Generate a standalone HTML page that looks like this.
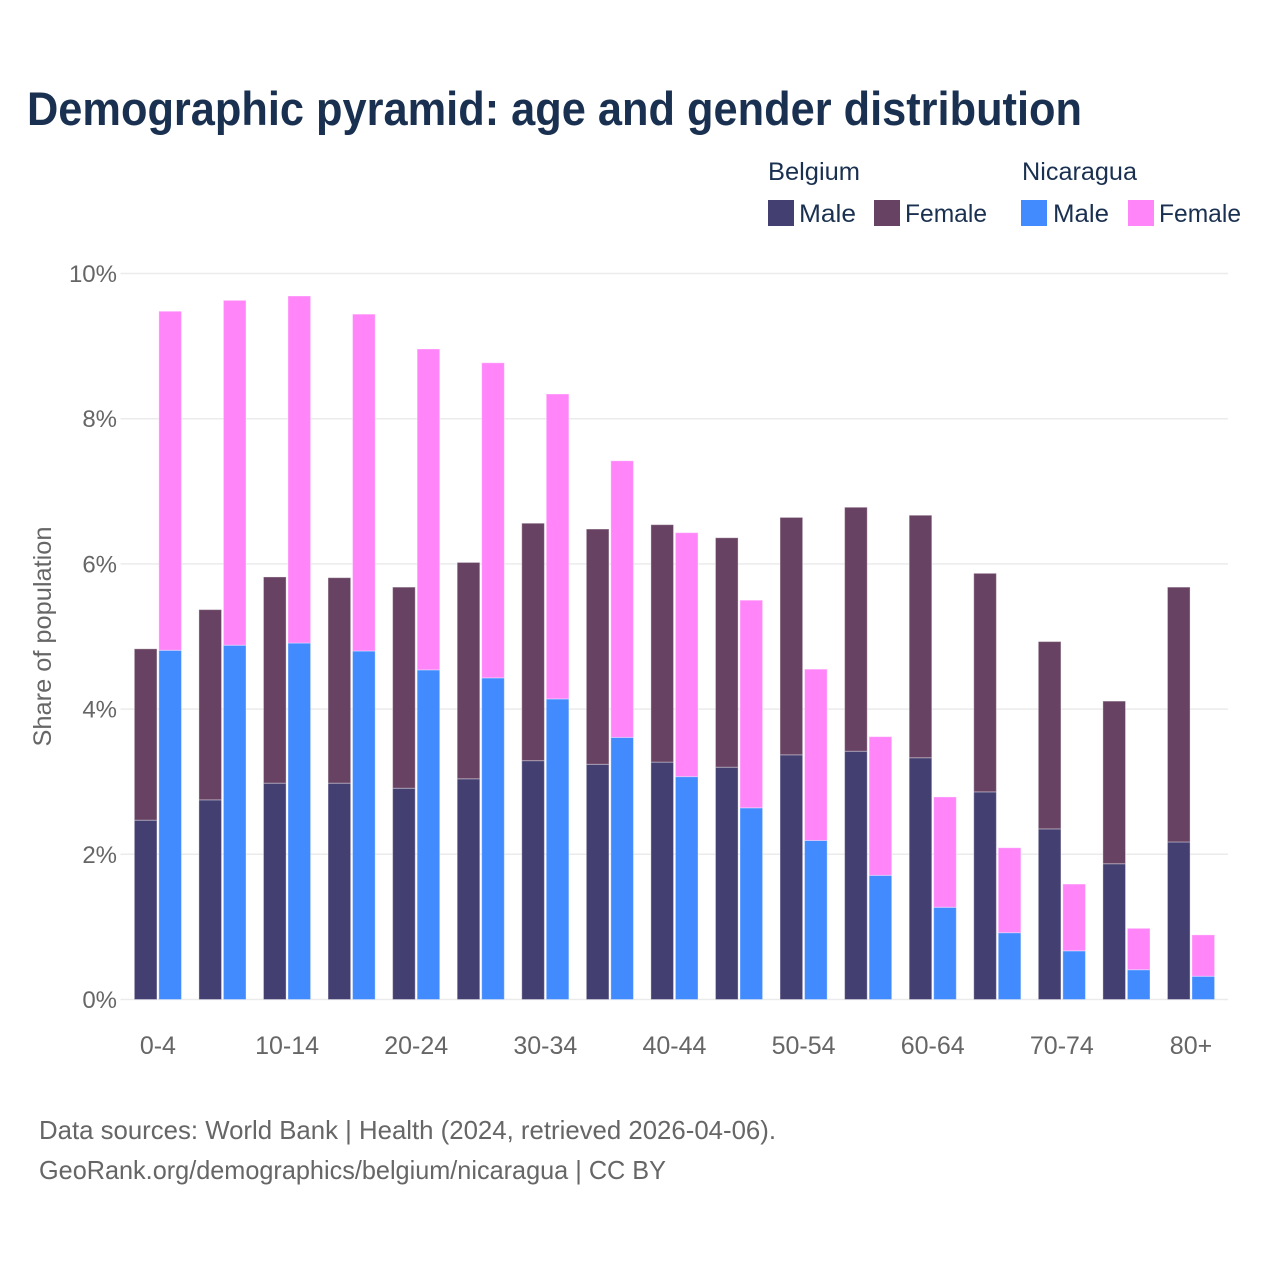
<!DOCTYPE html>
<html lang="en">
<head>
<meta charset="utf-8">
<title>Demographic pyramid: age and gender distribution</title>
<style>
html,body{margin:0;padding:0;background:#fff;}
svg{display:block;font-family:"Liberation Sans",sans-serif;}
</style>
</head>
<body>
<svg id="chart" xmlns="http://www.w3.org/2000/svg" width="1280" height="1280" viewBox="0 0 1280 1280">
  <rect width="1280" height="1280" fill="#ffffff"/>
  <text x="27" y="125" font-size="47" font-weight="bold" fill="#1a3050" textLength="1055" lengthAdjust="spacingAndGlyphs">Demographic pyramid: age and gender distribution</text>

  <g font-size="25" fill="#1a3050">
    <text x="768" y="180" textLength="92" lengthAdjust="spacingAndGlyphs">Belgium</text>
    <text x="1022" y="180" textLength="115" lengthAdjust="spacingAndGlyphs">Nicaragua</text>
    <rect x="768" y="200" width="26" height="26" fill="#443f71"/>
    <text x="799" y="222" textLength="57" lengthAdjust="spacingAndGlyphs">Male</text>
    <rect x="874" y="200" width="26" height="26" fill="#684262"/>
    <text x="905" y="222" textLength="82" lengthAdjust="spacingAndGlyphs">Female</text>
    <rect x="1021" y="200" width="26" height="26" fill="#418bff"/>
    <text x="1053" y="222" textLength="56" lengthAdjust="spacingAndGlyphs">Male</text>
    <rect x="1128" y="200" width="26" height="26" fill="#ff85f9"/>
    <text x="1159" y="222" textLength="82" lengthAdjust="spacingAndGlyphs">Female</text>
  </g>

  <g id="grid"></g>
  <g id="yticks" font-size="24" fill="#666666" text-anchor="end"></g>
  <g id="bars"></g>
  <g id="xticks" font-size="25" fill="#666666" text-anchor="middle"></g>

  <text transform="translate(51,636.5) rotate(-90)" text-anchor="middle" font-size="25" fill="#666666" textLength="220" lengthAdjust="spacingAndGlyphs">Share of population</text>

  <text x="39" y="1139" font-size="26" fill="#666666" textLength="737" lengthAdjust="spacingAndGlyphs">Data sources: World Bank | Health (2024, retrieved 2026-04-06).</text>
  <text x="39" y="1179" font-size="26" fill="#666666" textLength="627" lengthAdjust="spacingAndGlyphs">GeoRank.org/demographics/belgium/nicaragua | CC BY</text>
</svg>
<script>
var categories = ["0-4","5-9","10-14","15-19","20-24","25-29","30-34","35-39","40-44","45-49","50-54","55-59","60-64","65-69","70-74","75-79","80+"];
var belgiumMale = [2.47,2.75,2.98,2.98,2.91,3.04,3.29,3.24,3.27,3.20,3.37,3.42,3.33,2.86,2.35,1.87,2.17];
var belgiumFemale = [2.36,2.62,2.84,2.83,2.77,2.98,3.27,3.24,3.27,3.16,3.27,3.36,3.34,3.01,2.58,2.24,3.51];
var nicaraguaMale = [4.81,4.88,4.91,4.80,4.54,4.43,4.14,3.61,3.07,2.64,2.19,1.71,1.27,0.92,0.67,0.41,0.32];
var nicaraguaFemale = [4.67,4.75,4.78,4.64,4.42,4.34,4.20,3.81,3.36,2.86,2.36,1.91,1.52,1.17,0.92,0.57,0.57];
var yTicks = [0,2,4,6,8,10];
var xTickEvery = 2;

var NS = 'http://www.w3.org/2000/svg';
function yScale(v) { return 999.5 - v * 72.6; }
function xCenter(i) { return 157.9 + i * 64.57; }
var barWidth = 22.6;
var barGap = 1.9;

function make(tag, attrs, parent) {
  var el = document.createElementNS(NS, tag);
  for (var k in attrs) { el.setAttribute(k, attrs[k]); }
  parent.appendChild(el);
  return el;
}

var gridG = document.getElementById('grid');
var yG = document.getElementById('yticks');
yTicks.forEach(function (t) {
  var line = make('line', {x1: 120.5, x2: 1228, y1: yScale(t), y2: yScale(t), stroke: '#ebebeb', 'stroke-width': 1.5}, gridG);
  
  
  var label = make('text', {x: 117, y: yScale(t) + 8.5}, yG);
  label.textContent = t + '%';
  
  
});

var barsG = document.getElementById('bars');
function drawSegment(x, base, value, fill, stroke, name) {
  var top = yScale(base + value);
  var bottom = yScale(base);
  var rect = make('rect', {x: x, y: top, width: barWidth, height: bottom - top, fill: fill, stroke: stroke, 'stroke-opacity': 0.35, 'stroke-width': 1}, barsG);
  
  
}

categories.forEach(function (c, i) {
  var cx = xCenter(i);
  var xBe = cx - barGap / 2 - barWidth;
  var xNi = cx + barGap / 2;
  drawSegment(xBe, 0, belgiumMale[i], '#443f71', '#ffffff', 'bar-belgium-male');
  drawSegment(xBe, belgiumMale[i], belgiumFemale[i], '#684262', '#ffffff', 'bar-belgium-female');
  drawSegment(xNi, 0, nicaraguaMale[i], '#418bff', '#ffffff', 'bar-nicaragua-male');
  drawSegment(xNi, nicaraguaMale[i], nicaraguaFemale[i], '#ff85f9', '#ffffff', 'bar-nicaragua-female');
});

var xG = document.getElementById('xticks');
categories.forEach(function (c, i) {
  if (i % xTickEvery !== 0) { return; }
  var label = make('text', {x: xCenter(i), y: 1054}, xG);
  label.textContent = c;
  
  
});
</script>
</body>
</html>
